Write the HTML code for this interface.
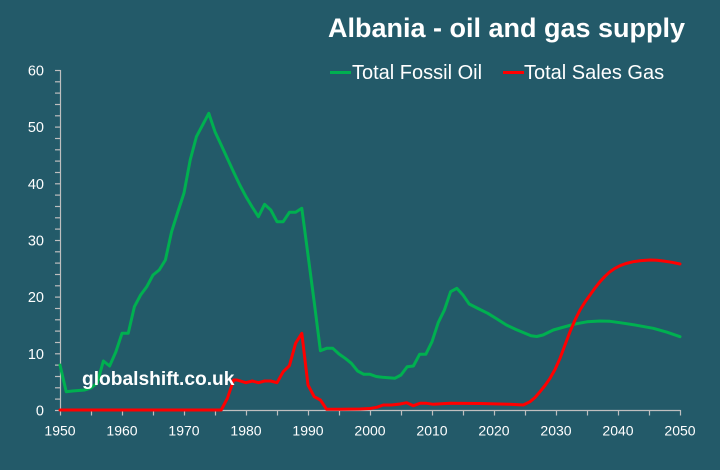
<!DOCTYPE html>
<html>
<head>
<meta charset="utf-8">
<style>
html,body{margin:0;padding:0;background:#235a69;}
svg{display:block;}
text{font-family:"Liberation Sans",Arial,sans-serif;}
</style>
</head>
<body>
<svg width="720" height="470" viewBox="0 0 720 470" xmlns="http://www.w3.org/2000/svg">
<rect x="0" y="0" width="720" height="470" fill="#235a69"/>

<!-- title -->
<text x="328" y="37" font-size="27" font-weight="bold" fill="#ffffff">Albania - oil and gas supply</text>

<!-- legend -->
<line x1="330" y1="72.5" x2="351" y2="72.5" stroke="#00b050" stroke-width="3"/>
<text x="352" y="79" font-size="20" fill="#ffffff">Total Fossil Oil</text>
<line x1="503" y1="72.5" x2="524" y2="72.5" stroke="#ff0000" stroke-width="3"/>
<text x="524" y="79" font-size="20" fill="#ffffff">Total Sales Gas</text>

<!-- y axis -->
<g stroke="#bfbfbf" stroke-width="1.2">
<line x1="60.5" y1="70" x2="60.5" y2="411"/>
<line x1="55" y1="70.5" x2="60.5" y2="70.5"/>
<line x1="55" y1="81.8" x2="60.5" y2="81.8"/>
<line x1="55" y1="93.1" x2="60.5" y2="93.1"/>
<line x1="55" y1="104.5" x2="60.5" y2="104.5"/>
<line x1="55" y1="115.8" x2="60.5" y2="115.8"/>
<line x1="55" y1="127.1" x2="60.5" y2="127.1"/>
<line x1="55" y1="138.5" x2="60.5" y2="138.5"/>
<line x1="55" y1="149.8" x2="60.5" y2="149.8"/>
<line x1="55" y1="161.1" x2="60.5" y2="161.1"/>
<line x1="55" y1="172.5" x2="60.5" y2="172.5"/>
<line x1="55" y1="183.8" x2="60.5" y2="183.8"/>
<line x1="55" y1="195.1" x2="60.5" y2="195.1"/>
<line x1="55" y1="206.5" x2="60.5" y2="206.5"/>
<line x1="55" y1="217.8" x2="60.5" y2="217.8"/>
<line x1="55" y1="229.1" x2="60.5" y2="229.1"/>
<line x1="55" y1="240.5" x2="60.5" y2="240.5"/>
<line x1="55" y1="251.8" x2="60.5" y2="251.8"/>
<line x1="55" y1="263.1" x2="60.5" y2="263.1"/>
<line x1="55" y1="274.5" x2="60.5" y2="274.5"/>
<line x1="55" y1="285.8" x2="60.5" y2="285.8"/>
<line x1="55" y1="297.1" x2="60.5" y2="297.1"/>
<line x1="55" y1="308.5" x2="60.5" y2="308.5"/>
<line x1="55" y1="319.8" x2="60.5" y2="319.8"/>
<line x1="55" y1="331.1" x2="60.5" y2="331.1"/>
<line x1="55" y1="342.5" x2="60.5" y2="342.5"/>
<line x1="55" y1="353.8" x2="60.5" y2="353.8"/>
<line x1="55" y1="365.1" x2="60.5" y2="365.1"/>
<line x1="55" y1="376.5" x2="60.5" y2="376.5"/>
<line x1="55" y1="387.8" x2="60.5" y2="387.8"/>
<line x1="55" y1="399.1" x2="60.5" y2="399.1"/>
<line x1="55" y1="410.5" x2="60.5" y2="410.5"/>
</g>
<g font-size="14.5" fill="#ffffff" text-anchor="end">
<text x="44" y="75.5">60</text>
<text x="44" y="132.2">50</text>
<text x="44" y="188.8">40</text>
<text x="44" y="245.5">30</text>
<text x="44" y="302.2">20</text>
<text x="44" y="358.8">10</text>
<text x="44" y="415.5">0</text>
</g>

<!-- x axis -->
<g stroke="#bfbfbf" stroke-width="1.2">
<line x1="60" y1="410.5" x2="680.5" y2="410.5"/>
<line x1="60.5" y1="410" x2="60.5" y2="415.5"/>
<line x1="91.5" y1="410" x2="91.5" y2="415.5"/>
<line x1="122.5" y1="410" x2="122.5" y2="415.5"/>
<line x1="153.5" y1="410" x2="153.5" y2="415.5"/>
<line x1="184.5" y1="410" x2="184.5" y2="415.5"/>
<line x1="215.5" y1="410" x2="215.5" y2="415.5"/>
<line x1="246.5" y1="410" x2="246.5" y2="415.5"/>
<line x1="277.5" y1="410" x2="277.5" y2="415.5"/>
<line x1="308.5" y1="410" x2="308.5" y2="415.5"/>
<line x1="339.5" y1="410" x2="339.5" y2="415.5"/>
<line x1="370.5" y1="410" x2="370.5" y2="415.5"/>
<line x1="401.5" y1="410" x2="401.5" y2="415.5"/>
<line x1="432.5" y1="410" x2="432.5" y2="415.5"/>
<line x1="463.5" y1="410" x2="463.5" y2="415.5"/>
<line x1="494.5" y1="410" x2="494.5" y2="415.5"/>
<line x1="525.5" y1="410" x2="525.5" y2="415.5"/>
<line x1="556.5" y1="410" x2="556.5" y2="415.5"/>
<line x1="587.5" y1="410" x2="587.5" y2="415.5"/>
<line x1="618.5" y1="410" x2="618.5" y2="415.5"/>
<line x1="649.5" y1="410" x2="649.5" y2="415.5"/>
<line x1="680.5" y1="410" x2="680.5" y2="415.5"/>
</g>
<g font-size="14" fill="#ffffff" text-anchor="middle">
<text x="60" y="435.5">1950</text>
<text x="122" y="435.5">1960</text>
<text x="184" y="435.5">1970</text>
<text x="246" y="435.5">1980</text>
<text x="308" y="435.5">1990</text>
<text x="370" y="435.5">2000</text>
<text x="432" y="435.5">2010</text>
<text x="494" y="435.5">2020</text>
<text x="556" y="435.5">2030</text>
<text x="618" y="435.5">2040</text>
<text x="680" y="435.5">2050</text>
</g>

<!-- oil -->
<polyline fill="none" stroke="#00b050" stroke-width="3" stroke-linejoin="round" stroke-linecap="round"
points="60,365 66.2,391.7 72.4,391 78.6,390.5 84.8,390 91,388 97.2,383 103.4,361 109.6,366 115.8,352 122,333.3 128.2,333.3 134.4,306.7 140.6,295 146.8,286.7 153,275 159.2,270 165.4,260 171.6,231.7 177.8,212 184,193 190.2,160 196.4,136.7 202.6,125 208.8,113.3 215,131.7 221.2,145 227.4,158.5 233.6,172 239.8,185 246,196.7 252.2,207 258.4,216.7 264.6,204.3 270.8,210 277,221.7 283.2,221.7 289.4,212.3 295.6,212.3 301.8,208.3 308,255 314.2,302 320.4,350.7 326.6,348.3 332.8,348.3 339,354 345.2,358.3 351.4,363.3 357.6,371 363.8,374.3 370,374.3 376.2,376.5 382.4,377.3 388.6,377.8 394.8,378.3 401,375 407.2,366.7 413.4,366 419.6,354.3 425.8,354.3 432,341.7 438.2,322.7 444.4,310 450.6,291.7 456.8,288.3 463,295 469.2,304 478,308.5 487.8,313.3 497,319 506.4,325 516,329.5 525,333.3 531,335.8 536.7,336.5 543,335 553.3,330 564,327 575,324 587,321.8 600,321 610,321.3 620,322.7 636,325.2 653.3,328.3 667,332.2 680,336.7"/>

<!-- gas -->
<polyline fill="none" stroke="#ff0000" stroke-width="3" stroke-linejoin="round" stroke-linecap="round"
points="60,410 221.2,410 227.4,398.3 233.6,380 237,380 246,382.7 252.2,381 258.4,382.7 264.6,381 270.8,381 277,382.7 283.2,371.7 289.4,365.7 295.6,343.3 301.8,333.3 308,385 314.2,396.7 320.4,400 326.6,409.3 340,409.3 360,409 370,408.5 376.7,407.3 383.3,405 391.7,405 400,404 406.7,402.7 413.3,405.7 420,403.3 426.7,403.3 433.3,404.3 450,403.3 480,403.5 510,404.3 523.3,405 530,401.7 535,397.5 540,391.7 545,385.5 550,378.3 555,369.5 560,358.3 565,345 570,331.7 575,320 580,310 585,302 590,295 595,288 600,281.7 605,276.3 610,271.7 615,268.3 620,265.7 626,263.5 633.3,261.7 641,260.6 650,260 657,260.3 663.3,261 672,262.3 680,264"/>

<!-- watermark -->
<text x="82" y="385" font-size="19.2" font-weight="bold" fill="#ffffff">globalshift.co.uk</text>
</svg>
</body>
</html>
